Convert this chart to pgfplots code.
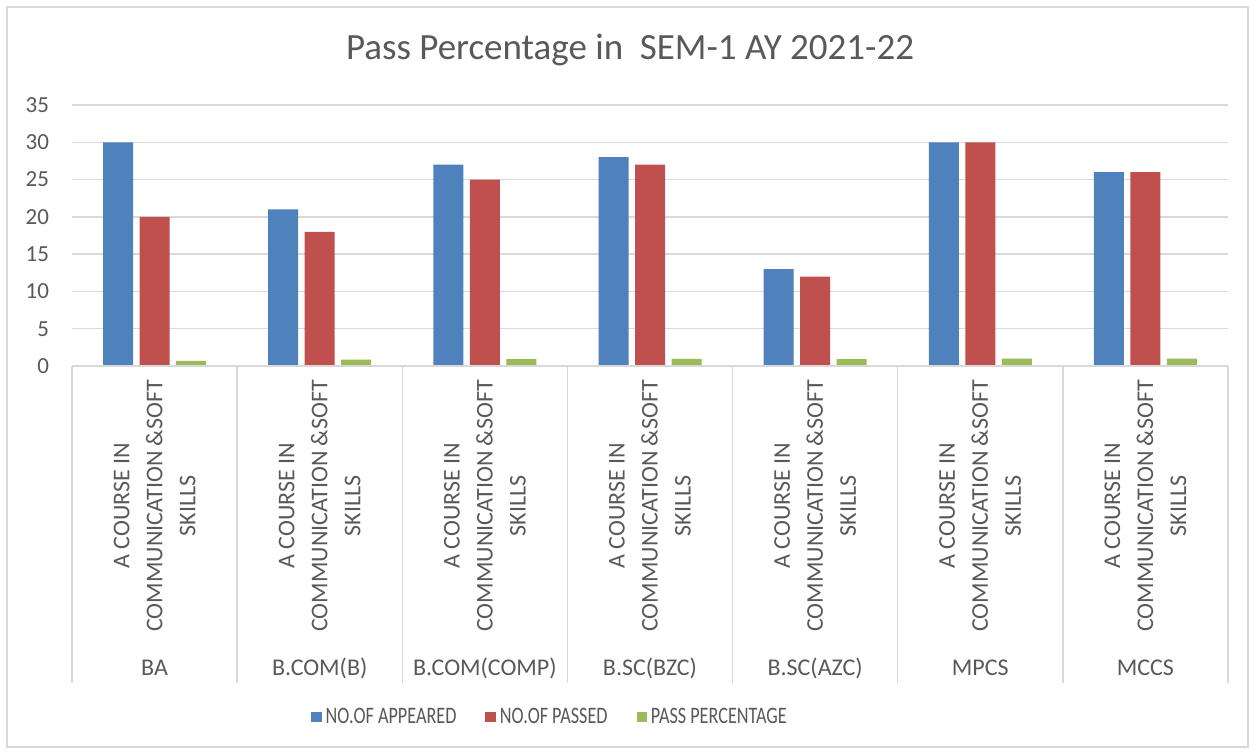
\documentclass[border=0pt]{standalone}
\usepackage{graphicx}
\usepackage{pgfplots}
\pgfplotsset{compat=1.18}
\usepackage{fontspec}
\setmainfont{Carlito}
\definecolor{txt}{HTML}{595959}
\definecolor{gridc}{HTML}{D9D9D9}
\definecolor{cblue}{HTML}{4F81BD}
\definecolor{cred}{HTML}{C0504D}
\definecolor{cgreen}{HTML}{9BBB59}
\newcommand{\legtxt}[1]{\scalebox{0.77}[1]{#1}}
\begin{document}
\begin{tikzpicture}
\useasboundingbox (0,0) rectangle (627.5pt,377pt);
\fill[white] (0,0) rectangle (627.5pt,377pt);
\draw[gridc, line width=0.6pt] (3.5pt,3.5pt) rectangle (624pt,373.5pt);
\node[text=txt, font=\fontsize{18.5}{22}\selectfont] at (315pt,352pt) {Pass Percentage in\ \ SEM-1 AY 2021-22};
\begin{axis}[
  at={(36pt,194pt)}, anchor=south west,
  scale only axis, width=578pt, height=130.5pt,
  xmin=-0.5, xmax=6.5, ymin=0, ymax=35,
  ytick={0,5,...,35},
  xtick={0,...,6},
  xticklabels={BA,B.COM(B),B.COM(COMP),B.SC(BZC),B.SC(AZC),MPCS,MCCS},
  xticklabel style={anchor=center, yshift=-151pt, text=txt, font=\fontsize{12}{14}\selectfont},
  yticklabel style={text=txt, font=\fontsize{11.5}{13}\selectfont, xshift=-8pt},
  /pgf/number format/assume math mode=true,
  major tick length=0pt,
  ymajorgrids, grid style={gridc, line width=0.7pt},
  axis line style={draw=none},
  clip=false,
  ybar=3.25pt, bar width=15pt,
  legend columns=3,
  legend style={at={(0.4144,-1.345)}, anchor=center, draw=none, fill=none,
    font=\fontsize{11.8}{13}\selectfont, text=txt,
    nodes={inner xsep=2pt},
    /tikz/every even column/.append style={column sep=12.5pt}},
  legend image code/.code={\draw[#1,draw=none] (0pt,-2.6pt) rectangle (5.2pt,2.6pt);},
]
\addplot[fill=cblue, draw=none] coordinates {(0,30) (1,21) (2,27) (3,28) (4,13) (5,30) (6,26)};
\addplot[fill=cred, draw=none] coordinates {(0,20) (1,18) (2,25) (3,27) (4,12) (5,30) (6,26)};
\addplot[fill=cgreen, draw=none] coordinates {(0,0.67) (1,0.86) (2,0.93) (3,0.96) (4,0.92) (5,1) (6,1)};
\legend{\legtxt{NO.OF APPEARED}, \legtxt{NO.OF PASSED}, \legtxt{PASS PERCENTAGE}}
\draw[gridc, line width=0.7pt] (axis cs:-0.5,0) -- (axis cs:6.5,0);
\pgfplotsinvokeforeach{0,...,7}{
  \draw[gridc, line width=0.7pt] (axis cs:#1-0.5,0) -- ([yshift=-158.5pt]axis cs:#1-0.5,0);
}
\pgfplotsinvokeforeach{0,...,6}{
  \node[rotate=90, align=center, text=txt, font=\fontsize{12}{16.5}\selectfont, inner sep=0pt] at ([yshift=-70pt]axis cs:#1,0) {A COURSE IN\\COMMUNICATION \&SOFT\\SKILLS};
}
\end{axis}
\end{tikzpicture}
\end{document}
